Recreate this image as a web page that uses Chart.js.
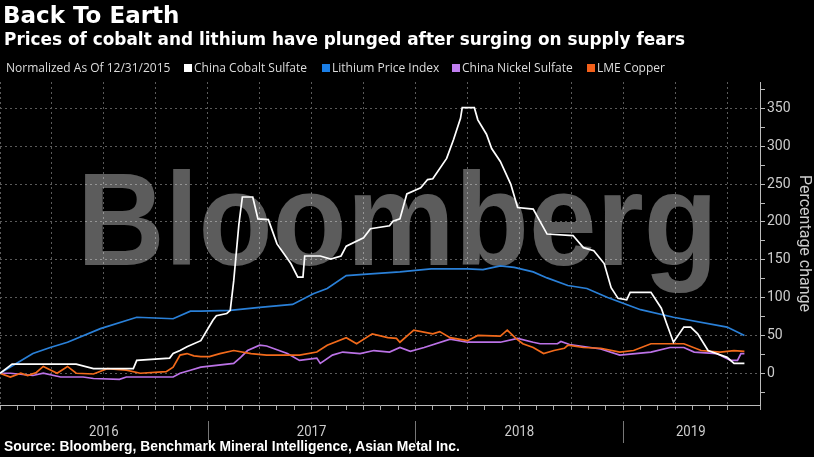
<!DOCTYPE html>
<html>
<head>
<meta charset="utf-8">
<script src="https://cdn.jsdelivr.net/npm/chart.js@4.4.0/dist/chart.umd.min.js"></script>
<style>
html, body { margin: 0; padding: 0; background: #000; }
#wrap { position: relative; width: 814px; height: 457px; background: #000; overflow: hidden; font-family: "Open Sans", sans-serif; color: #fff; }
#chart { position: absolute; left: 0; top: 0; }
.t { position: absolute; white-space: nowrap; }
#title { left: 3px; top: 3px; font-family: "DejaVu Sans", sans-serif; font-size: 23px; line-height: 25px; font-weight: 700; }
#sub { left: 4px; top: 31px; font-family: "DejaVu Sans", sans-serif; font-size: 16.9px; line-height: 17px; font-weight: 700; }
.lg { top: 61px; font-size: 12px; line-height: 13px; color: #ddd; }
.sq { display: inline-block; width: 8px; height: 8px; margin-right: 2px; }
#src { left: 4px; top: 439px; font-family: "Liberation Sans", sans-serif; font-weight: 700; font-size: 14px; line-height: 15px; transform-origin: 0 0; }
</style>
</head>
<body>
<div id="wrap">
  <canvas id="chart" width="814" height="457"></canvas>
  <div class="t" id="title">Back To Earth</div>
  <div class="t" id="sub">Prices of cobalt and lithium have plunged after surging on supply fears</div>
  <div class="t lg" style="left:6px">Normalized As Of 12/31/2015</div>
  <div class="t lg" style="left:184px"><span class="sq" style="background:#ffffff"></span>China Cobalt Sulfate</div>
  <div class="t lg" style="left:322px"><span class="sq" style="background:#1a7ee6"></span>Lithium Price Index</div>
  <div class="t lg" style="left:452px"><span class="sq" style="background:#c07ef0"></span>China Nickel Sulfate</div>
  <div class="t lg" style="left:587px"><span class="sq" style="background:#f4601a"></span>LME Copper</div>
  <div class="t" id="src">Source: Bloomberg, Benchmark Mineral Intelligence, Asian Metal Inc.</div>
</div>
<script>
// x = months since 12/31/2015, y = % change
const cobalt = [[0,0],[0.7,12],[4.4,12],[5.4,6],[7.7,6],[7.9,17],[9.8,20],[10,26],[10.4,30],[10.8,35],[11.6,43],[12.3,70],[12.5,76],[13.1,79],[13.3,83],[13.5,122],[13.8,197],[14,233],[14.6,233],[14.9,204],[15.5,203],[16,171],[16.8,145],[17.2,127],[17.5,127],[17.6,155],[18.5,155],[19.1,151],[19.7,155],[20,168],[21,179],[21.4,191],[22.5,195],[22.7,201],[23.1,204],[23.5,237],[24.3,245],[24.7,256],[25,257],[25.8,284],[26.2,309],[26.6,337],[26.7,351],[27.4,351],[27.6,335],[28.1,316],[28.4,297],[28.9,280],[29.5,250],[29.9,219],[30.8,217],[31.6,184],[33.1,182],[33.7,166],[34.3,162],[34.9,145],[35.3,113],[35.7,99],[36.2,97],[36.4,107],[37.6,107],[38.2,86],[38.5,66],[38.9,41],[39.5,61],[39.9,61],[40.3,52],[40.9,30],[42,21],[42.4,13],[43,13]];
const lithium = [[0,0],[1.9,26],[2.9,34],[3.9,41],[5.8,59],[7.9,74],[10,72],[11,82],[11.6,82],[13.3,83],[15,87],[16.9,91],[18.1,105],[18.9,112],[20,129],[21.2,131],[23.1,134],[24.9,138],[27,138],[27.9,137],[28.9,142],[29.7,140],[30.8,134],[31.6,126],[32.8,116],[33.9,112],[35.1,100],[37,84],[38.9,74],[42,61],[43,50]];
const nickel = [[0,0],[0.6,0],[1.9,-3],[2.5,0],[3.5,-5],[4.8,-5],[5.4,-7],[6.9,-8],[7.3,-5],[10,-5],[10.4,0],[11,4],[11.6,8],[13.5,13],[13.9,21],[14.3,30],[15,37],[15.4,36],[16.6,26],[17.3,17],[18.3,20],[18.5,13],[19.2,24],[19.8,28],[20.8,26],[21.6,30],[22.5,28],[23.1,34],[23.7,29],[24.5,34],[26,45],[27,41],[28.9,41],[29.9,46],[30.8,41],[31.2,39],[32.2,39],[32.4,42],[32.9,38],[34.7,32],[35.8,24],[37.6,28],[38.7,34],[39.5,34],[40.1,28],[41.4,26],[42.2,17],[42.6,17],[42.8,26],[43,26]];
const copper = [[0,0],[0.6,-5],[1.2,0],[1.6,-3],[2.1,1],[2.5,9],[3.3,0],[3.9,9],[4.4,0],[5.4,-1],[6.2,6],[7.3,4],[8.1,0],[9.6,2],[10,8],[10.4,24],[10.8,26],[11.2,23],[11.6,22],[12.1,22],[12.7,26],[13.5,30],[14.5,26],[15.4,24],[16.6,24],[17.3,24],[18.3,28],[18.9,37],[20,47],[20.6,39],[21.5,52],[22.4,47],[22.9,46],[23.1,41],[23.9,57],[25,52],[25.4,55],[26,47],[27,43],[27.6,50],[28.9,49],[29.3,57],[29.8,46],[30.2,39],[30.8,34],[31.4,26],[32,30],[32.6,33],[32.8,37],[33.7,34],[34.7,33],[35.8,28],[36.6,30],[37.6,39],[38.5,39],[39.5,39],[40.5,30],[41.6,28],[42.4,30],[43,29]];

const yearLabels = ['2016', '2017', '2018', '2019'];
const yearCenters = [6, 18, 30, 39.9];
const yearBounds = [12, 24, 36];

const toXY = arr => arr.map(p => ({ x: p[0], y: p[1] }));

const bgPlugin = {
  id: 'bg',
  beforeDraw(chart) {
    const ctx = chart.ctx;
    ctx.save();
    ctx.fillStyle = '#000';
    ctx.fillRect(0, 0, chart.width, chart.height);
    ctx.restore();
  }
};

const watermark = {
  id: 'watermark',
  beforeDatasetsDraw(chart) {
    const ctx = chart.ctx;
    ctx.save();
    ctx.translate(77, 265);
    ctx.scale(0.92, 1);
    ctx.font = 'bold 132px "Liberation Sans"';
    ctx.fillStyle = 'rgba(255,255,255,0.36)';
    ctx.textBaseline = 'alphabetic';
    ctx.fillText('Bloomberg', 0, 0);
    ctx.restore();
  }
};

const yearAxis = {
  id: 'yearAxis',
  afterDraw(chart) {
    const ctx = chart.ctx, x = chart.scales.x, area = chart.chartArea;
    ctx.save();
    ctx.fillStyle = '#ccc';
    ctx.font = '15px Roboto';
    ctx.textAlign = 'center';
    ctx.textBaseline = 'middle';
    yearLabels.forEach((t, i) => {
      const cx = x.getPixelForValue(yearCenters[i]);
      ctx.save();
      ctx.translate(cx, area.bottom + 27);
      ctx.scale(0.88, 1);
      ctx.fillText(t, 0, 0);
      ctx.restore();
    });
    ctx.strokeStyle = '#777';
    ctx.lineWidth = 1;
    yearBounds.forEach(v => {
      const px = Math.round(x.getPixelForValue(v)) + 0.5;
      ctx.beginPath();
      ctx.moveTo(px, area.bottom + 16);
      ctx.lineTo(px, area.bottom + 38);
      ctx.stroke();
    });
    ctx.restore();
  }
};

function draw() {
  const src = document.getElementById('src');
  src.style.transform = 'scaleX(' + (456 / src.offsetWidth) + ')';

  new Chart(document.getElementById('chart'), {
    type: 'line',
    data: {
      datasets: [
        { label: 'China Cobalt Sulfate', data: toXY(cobalt), borderColor: '#ffffff' },
        { label: 'Lithium Price Index', data: toXY(lithium), borderColor: '#2a80d8' },
        { label: 'LME Copper', data: toXY(copper), borderColor: '#f26a1b' },
        { label: 'China Nickel Sulfate', data: toXY(nickel), borderColor: '#bb72e6' }
      ]
    },
    options: {
      responsive: false,
      animation: false,
      layout: { padding: { top: 82, bottom: 47, left: 0, right: 0 } },
      elements: { point: { radius: 0 }, line: { borderWidth: 1.7, tension: 0 } },
      plugins: { legend: { display: false }, tooltip: { enabled: false } },
      scales: {
        x: {
          type: 'linear', min: 0, max: 43.9,
          ticks: { stepSize: 1, display: false },
          grid: {
            color: c => (c.tick && c.tick.value % 3 === 0) ? '#5a5a5a' : 'transparent',
            tickColor: '#aaa', tickLength: 5
          },
          border: { color: '#bbb', dash: [2, 3] },
          afterFit: s => { s.height = 5; }
        },
        y: {
          position: 'right', min: -42, max: 385,
          ticks: {
            stepSize: 25, includeBounds: false, autoSkip: false, padding: 2, color: '#ccc',
            font: { family: 'Roboto', size: 14 },
            callback: v => (v % 50 === 0 ? v : '')
          },
          grid: {
            color: c => (c.tick && c.tick.value % 50 === 0) ? '#5a5a5a' : 'transparent',
            tickColor: '#bbb', tickLength: 5
          },
          border: { color: '#bbb', dash: [2, 3] },
          title: {
            display: true, text: 'Percentage change', color: '#ccc',
            font: { family: 'Roboto', size: 16 }, padding: { top: 0, bottom: 3 }
          },
          afterFit: s => { s.width = 54; }
        }
      }
    },
    plugins: [bgPlugin, watermark, yearAxis]
  });
}

if (document.fonts && document.fonts.ready) document.fonts.ready.then(draw); else draw();
</script>
</body>
</html>
